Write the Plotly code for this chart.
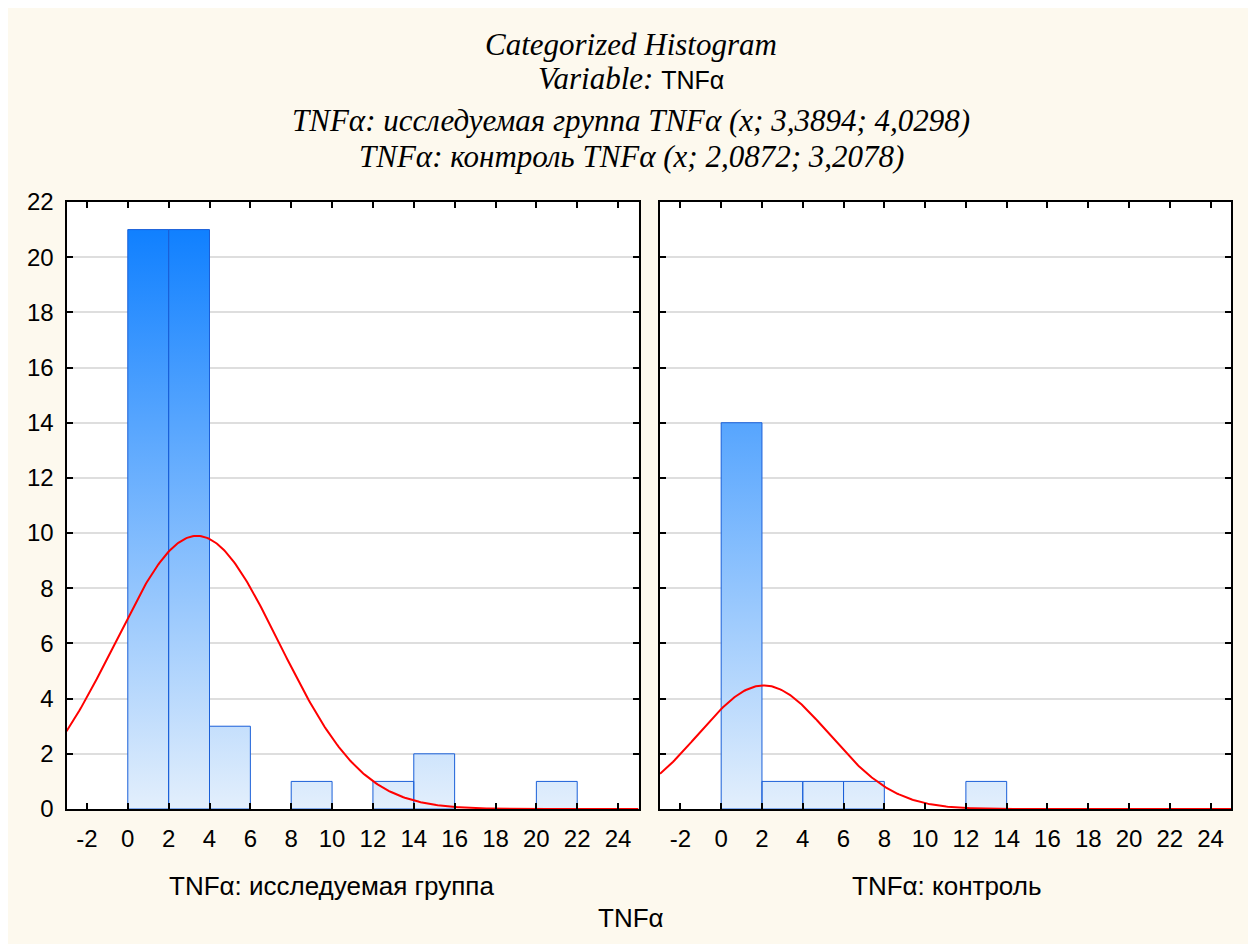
import numpy as np
import plotly.graph_objects as go

# ---- data ----
bin_left_edges = [0, 2, 4, 6, 8, 10, 12, 14, 16, 18, 20]
bin_width = 2
counts_study = [21, 21, 3, 0, 1, 0, 1, 2, 0, 0, 1]     # TNFα: исследуемая группа
counts_control = [14, 1, 1, 1, 0, 0, 1, 0, 0, 0, 0]    # TNFα: контроль
fit_study = (3.3894, 4.0298)    # mean, sd (from title)
fit_control = (2.0872, 3.2078)
x_ticks = list(range(-2, 25, 2))
x_tick_text = [str(v) for v in x_ticks]
y_ticks = list(range(0, 23, 2))
group_labels = ["TNFα: исследуемая группа", "TNFα: контроль"]

W, H = 1256, 944
OFF = 8  # page body margin offset
CREAM = "#FDF9EE"
LIGHT = "#E3EFFC"
DARK = "#1080FF"
EDGE = "#1A5FD8"


def bar_polygon(edges, counts, width):
    xs, ys = [], []
    for e, c in zip(edges, counts):
        if c <= 0:
            continue
        xs += [e, e, e + width, e + width, e, None]
        ys += [0, c, c, 0, 0, None]
    return xs, ys


def normal_curve(mean, sd, n, width):
    xs = np.linspace(-3, 25, 400)
    ys = n * width / (sd * np.sqrt(2 * np.pi)) * np.exp(-0.5 * ((xs - mean) / sd) ** 2)
    return xs, ys


def px_x(p):
    return (p - OFF) / W


def px_y(p):
    return 1 - (p - OFF) / H


fig = go.Figure()
for i, (counts, fit) in enumerate([(counts_study, fit_study), (counts_control, fit_control)]):
    xa = "x" if i == 0 else "x2"
    ya = "y" if i == 0 else "y2"
    bx, by = bar_polygon(bin_left_edges, counts, bin_width)
    fig.add_trace(go.Scatter(
        x=bx, y=by, xaxis=xa, yaxis=ya, mode="lines", fill="toself",
        line=dict(color=EDGE, width=1),
        fillgradient=dict(type="vertical", colorscale=[[0, LIGHT], [1, DARK]], start=0, stop=21),
        hoverinfo="skip", showlegend=False))
    cx, cy = normal_curve(fit[0], fit[1], sum(counts), bin_width)
    fig.add_trace(go.Scatter(
        x=cx, y=cy, xaxis=xa, yaxis=ya, mode="lines",
        line=dict(color="#FF0000", width=2), showlegend=False))

x1d = [px_x(66.5), px_x(638.5)]
x2d = [px_x(660), px_x(1231)]
yd = [px_y(809), px_y(202)]

axis_common = dict(
    showline=True, linecolor="black", linewidth=2, mirror="ticks",
    ticks="inside", ticklen=6, tickwidth=2, tickcolor="black",
    tickfont=dict(family="Liberation Sans, Arial", size=24, color="black"),
    zeroline=False, automargin=False, layer="above traces",
)

fig.update_layout(
    width=W, height=H, autosize=False,
    margin=dict(l=0, r=0, t=0, b=0),
    paper_bgcolor=CREAM, plot_bgcolor="white",
    template="none",
    xaxis=dict(domain=x1d, anchor="y", range=[-3, 25], tickvals=x_ticks, ticktext=x_tick_text,
               showgrid=False, ticklabelstandoff=7, **axis_common),
    xaxis2=dict(domain=x2d, anchor="y2", range=[-3, 25], tickvals=x_ticks, ticktext=x_tick_text,
                showgrid=False, ticklabelstandoff=7, **axis_common),
    yaxis=dict(domain=yd, anchor="x", range=[0, 22], tickvals=y_ticks,
               showgrid=True, gridcolor="#DEDEDE", gridwidth=1.5,
               ticklabelstandoff=6, **axis_common),
    yaxis2=dict(domain=yd, anchor="x2", range=[0, 22], tickvals=y_ticks,
                showgrid=True, gridcolor="#DEDEDE", gridwidth=1.5,
                showticklabels=False, **axis_common),
)

serif = "Liberation Serif, Times New Roman"
sans = "Liberation Sans, Arial"
title_lines = [
    (44, "<i>Categorized Histogram</i>"),
    (78, "<i>Variable:</i> <span style='font-family:Liberation Sans, Arial; font-size:25px; font-style:normal'>TNFα</span>"),
    (121, "<i>TNFα: исследуемая группа TNFα (x; 3,3894; 4,0298)</i>"),
    (157, "<i>TNFα: контроль TNFα (x; 2,0872; 3,2078)</i>"),
]
for ypx, txt in title_lines:
    fig.add_annotation(x=px_x(631), y=px_y(ypx), xref="paper", yref="paper",
                       text=txt, showarrow=False, xanchor="center", yanchor="middle",
                       font=dict(family=serif, size=31, color="black"))

fig.add_annotation(x=px_x(331), y=px_y(886), xref="paper", yref="paper",
                   text=group_labels[0], showarrow=False, xanchor="center", yanchor="middle",
                   font=dict(family=sans, size=26, color="black"))
fig.add_annotation(x=px_x(946), y=px_y(886), xref="paper", yref="paper",
                   text=group_labels[1], showarrow=False, xanchor="center", yanchor="middle",
                   font=dict(family=sans, size=26, color="black"))
fig.add_annotation(x=px_x(631), y=px_y(918), xref="paper", yref="paper",
                   text="TNFα", showarrow=False, xanchor="center", yanchor="middle",
                   font=dict(family=sans, size=26, color="black"))

fig.write_html("out.html")
